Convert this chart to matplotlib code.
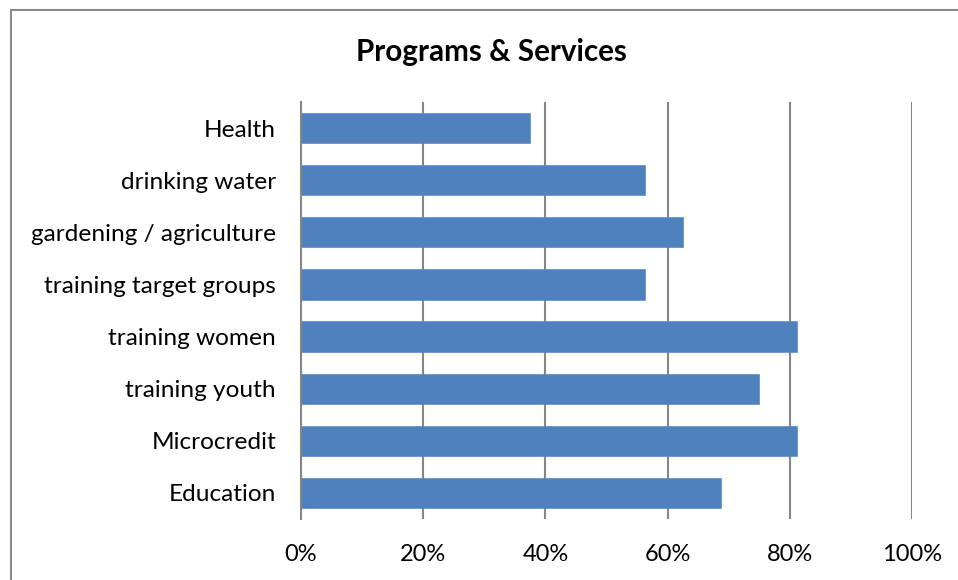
import matplotlib
matplotlib.use("Agg")
import matplotlib.pyplot as plt
import numpy as np
from matplotlib.patches import Rectangle
from matplotlib.ticker import PercentFormatter

plt.rcParams['font.family'] = ['Lato', 'DejaVu Sans']

# categories bottom -> top
categories = ['Education', 'Microcredit', 'training youth', 'training women',
              'training target groups', 'gardening / agriculture',
              'drinking water', 'Health']
values = [0.6875, 0.8125, 0.75, 0.8125, 0.5625, 0.625, 0.5625, 0.375]
ticks = [0, 0.2, 0.4, 0.6, 0.8, 1.0]

fig = plt.figure(figsize=(9.58, 5.8), dpi=100)
ax = fig.add_axes([301/958, 61/580, (912-301)/958, (519-102)/580])

y = np.arange(len(categories))
ax.barh(y, values, height=0.58, color='#4F81BD', edgecolor='#5B8CC6', linewidth=0.5, zorder=3)

ax.set_xlim(0, 1)
ax.set_ylim(-0.5, len(categories) - 0.5)
ax.set_xticks(ticks)
ax.xaxis.set_major_formatter(PercentFormatter(1.0, decimals=0))
ax.set_yticks(y)
ax.set_yticklabels(categories, fontsize=17.6)
ax.tick_params(axis='both', length=0, labelsize=17, colors='black')
ax.tick_params(axis='y', pad=18, labelsize=17.6)
ax.tick_params(axis='x', pad=18)
ax.grid(axis='x', color='#868686', linewidth=1.5, zorder=0)
for s in ['top', 'right', 'bottom']:
    ax.spines[s].set_visible(False)
ax.spines['left'].set_color('#868686')
ax.spines['left'].set_linewidth(1.5)
ax.spines['left'].set_zorder(4)

fig.text(491/958, 1 - 52/580, 'Programs & Services', ha='center', va='center',
         fontsize=21.3, fontweight='bold')

# chart-area border (right and bottom fall outside the image)
fig.patches.append(Rectangle((11/958, -0.05), 1.0, 1 - 10/580 + 0.05,
                             transform=fig.transFigure, fill=False,
                             edgecolor='#898989', linewidth=1.5))

fig.savefig('out.png', dpi=100)
